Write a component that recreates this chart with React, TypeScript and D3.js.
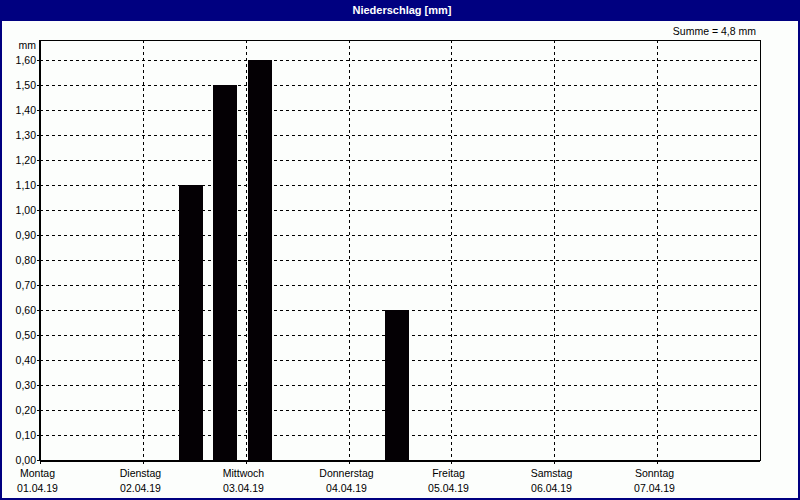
import React from "react";
import * as d3 from "d3";

const title = "Niederschlag [mm]";
const sumLabel = "Summe = 4,8 mm";
const unitLabel = "mm";
const dayNames = ["Montag", "Dienstag", "Mittwoch", "Donnerstag", "Freitag", "Samstag", "Sonntag"];
const dayDates = ["01.04.19", "02.04.19", "03.04.19", "04.04.19", "05.04.19", "06.04.19", "07.04.19"];
const dayStarts = ["2019-04-01", "2019-04-02", "2019-04-03", "2019-04-04", "2019-04-05", "2019-04-06", "2019-04-07"];
const domainStart = "2019-04-01T00:00";
const domainEnd = "2019-04-08T00:00";
const barTimes = ["2019-04-02T11:15", "2019-04-02T19:15", "2019-04-03T03:15", "2019-04-04T11:15"];
const barValues = [1.1, 1.5, 1.6, 0.6];
const yTicks = [0, 0.1, 0.2, 0.3, 0.4, 0.5, 0.6, 0.7, 0.8, 0.9, 1.0, 1.1, 1.2, 1.3, 1.4, 1.5, 1.6];
const yMax = 1.68;

const W = 800;
const H = 500;
const M = { left: 40, right: 40, top: 40, bottom: 40 };
const NAVY = "#000080";
const BG = "#fcfefc";
const FONT = "'Liberation Sans', Arial, sans-serif";

export default function App() {
  const parse = (s: string) => new Date(s);
  const x = d3.scaleTime().domain([parse(domainStart), parse(domainEnd)]).range([M.left, W - M.right]);
  const y = d3.scaleLinear().domain([0, yMax]).range([H - M.bottom, M.top]);
  const barW = 24;
  const fmt = (v: number) => v.toFixed(2).replace(".", ",");

  return (
    <svg width={W} height={H} style={{ position: "absolute", left: 0, top: 0, display: "block" }} shapeRendering="crispEdges">
      <rect x={0} y={0} width={W} height={H} fill={BG} />
      {/* window frame */}
      <rect x={0} y={0} width={W} height={21} fill={NAVY} />
      <rect x={0} y={0} width={2} height={H} fill={NAVY} />
      <rect x={W - 2} y={0} width={2} height={H} fill={NAVY} />
      <rect x={0} y={H - 2} width={W} height={2} fill={NAVY} />
      <text x={W / 2 + 2} y={14} textAnchor="middle" fill="#fff" fontFamily="'Liberation Sans Narrow', 'Liberation Sans', sans-serif" fontWeight="bold" fontSize={11}>{title}</text>
      <text x={756} y={35} textAnchor="end" fill="#000" fontFamily={FONT} fontSize={10.5}>{sumLabel}</text>
      <text x={36} y={49} textAnchor="end" fill="#000" fontFamily={FONT} fontSize={10.5}>{unitLabel}</text>

      {/* horizontal grid */}
      {yTicks.map((t, i) => (
        <g key={"y" + i}>
          {t > 0 && (
            <line x1={M.left} x2={W - M.right} y1={Math.round(y(t)) + 0.5} y2={Math.round(y(t)) + 0.5} stroke="#000" strokeDasharray="3,3" />
          )}
          <line x1={M.left - 3} x2={M.left} y1={Math.round(y(t)) + 0.5} y2={Math.round(y(t)) + 0.5} stroke="#000" />
          <text x={36} y={y(t) + 4} textAnchor="end" fill="#000" fontFamily={FONT} fontSize={10.5}>{fmt(t)}</text>
        </g>
      ))}

      {/* vertical grid + x labels */}
      {dayStarts.map((d, i) => {
        const xp = Math.round(x(parse(d + "T00:00"))) + 0.5;
        return (
          <g key={"x" + i}>
            {i > 0 && <line x1={xp} x2={xp} y1={M.top} y2={H - M.bottom} stroke="#000" strokeDasharray="3,3" />}
            <line x1={xp} x2={xp} y1={H - M.bottom} y2={H - M.bottom + 4} stroke="#000" />
            <text x={xp - 3} y={477} textAnchor="middle" fill="#000" fontFamily={FONT} fontSize={10.5}>{dayNames[i]}</text>
            <text x={xp - 3} y={492} textAnchor="middle" fill="#000" fontFamily={FONT} fontSize={10.5}>{dayDates[i]}</text>
          </g>
        );
      })}

      {/* bars */}
      {barTimes.map((t, i) => {
        const cx = x(parse(t));
        return (
          <rect key={"b" + i} x={Math.round(cx - barW / 2)} y={Math.round(y(barValues[i]))} width={barW} height={Math.round(y(0)) - Math.round(y(barValues[i]))} fill="#040004" />
        );
      })}

      {/* plot frame */}
      <rect x={M.left + 0.5} y={M.top + 0.5} width={W - M.left - M.right} height={H - M.top - M.bottom} fill="none" stroke="#000" />
      <line x1={M.left - 0.5} x2={M.left - 0.5} y1={M.top} y2={H - M.bottom + 1} stroke="#000" />
      <line x1={M.left} x2={W - M.right} y1={H - M.bottom + 1.5} y2={H - M.bottom + 1.5} stroke="#000" />
    </svg>
  );
}
